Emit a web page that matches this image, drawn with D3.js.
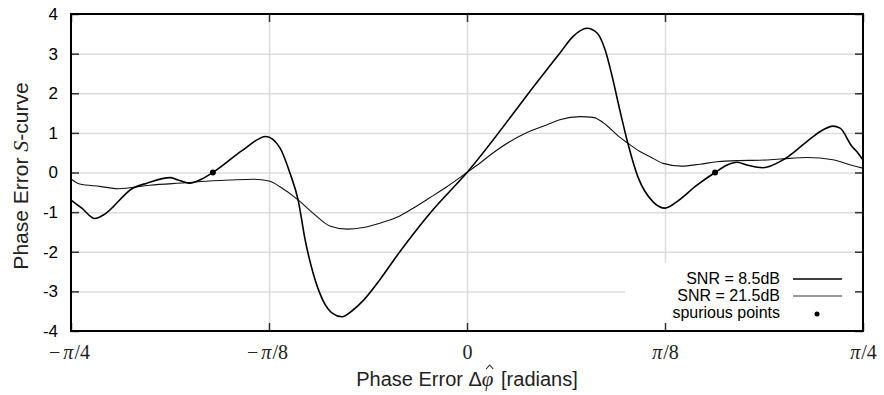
<!DOCTYPE html>
<html>
<head>
<meta charset="utf-8">
<script src="https://cdn.jsdelivr.net/npm/d3@7"></script>
<style>
  body { margin: 0; background: #fff; }
  svg { display: block; font-family: "Liberation Sans", Arial, sans-serif; }
</style>
</head>
<body>
<div id="container"></div>
<script>
/* DATA */
// phase error in radians, S-curve value
const phaseLow = [-0.785, -0.764, -0.738, -0.722, -0.662, -0.635, -0.589, -0.573, -0.549, -0.530,
  -0.504, -0.444, -0.399, -0.371, -0.351, -0.335, -0.321, -0.305, -0.286, -0.266, -0.248,
  -0.226, -0.205, -0.173, -0.139, -0.073, 0, 0.145, 0.184, 0.210, 0.238, 0.258, 0.274, 0.288, 0.303, 0.319,
  0.339, 0.369, 0.393, 0.416, 0.456, 0.492, 0.516, 0.535, 0.555, 0.587, 0.627, 0.674, 0.700, 0.726,
  0.740, 0.764, 0.773, 0.785];
const sLow = [-0.70, -0.90, -1.16, -1.08, -0.39, -0.27, -0.13, -0.19, -0.27, -0.19,
  0.00, 0.57, 0.91, 0.62, -0.02, -0.69, -1.70, -2.55, -3.22, -3.56, -3.64,
  -3.47, -3.22, -2.71, -2.10, -1.02, 0, 2.38, 3.01, 3.43, 3.64, 3.52, 3.09, 2.42, 1.58, 0.74,
  -0.11, -0.74, -0.90, -0.74, -0.32, 0.00, 0.19, 0.26, 0.19, 0.12, 0.32, 0.78, 1.03, 1.17,
  1.12, 0.65, 0.53, 0.32];

const phaseHigh = [-0.785, -0.768, -0.728, -0.692, -0.629, -0.559, -0.504, -0.470, -0.424, -0.391,
  -0.371, -0.335, -0.305, -0.272, -0.238, -0.206, -0.173, -0.139, -0.107, -0.073, -0.040, 0,
  0.026, 0.052, 0.119, 0.158, 0.184, 0.224, 0.250, 0.276, 0.299, 0.319, 0.343, 0.363, 0.389,
  0.426, 0.462, 0.496, 0.535, 0.581, 0.621, 0.674, 0.726, 0.766, 0.785];
const sHigh = [-0.17, -0.29, -0.35, -0.41, -0.32, -0.26, -0.21, -0.19, -0.17, -0.22,
  -0.36, -0.69, -1.03, -1.35, -1.43, -1.39, -1.28, -1.13, -0.90, -0.63, -0.36, 0,
  0.24, 0.50, 1.01, 1.20, 1.33, 1.41, 1.39, 1.20, 0.93, 0.74, 0.53, 0.40, 0.23,
  0.16, 0.21, 0.27, 0.30, 0.31, 0.34, 0.38, 0.32, 0.17, 0.11];

const spuriousPhase = [-0.504, 0.492];
const spuriousS = [0, 0];

const xTickValues = [-Math.PI / 4, -Math.PI / 8, 0, Math.PI / 8, Math.PI / 4];
const xTickLabels = [["−", "π", "/4"], ["−", "π", "/8"], ["", "", "0"], ["", "π", "/8"], ["", "π", "/4"]];
const yTickValues = [-4, -3, -2, -1, 0, 1, 2, 3, 4];
const legendLabels = ["SNR = 8.5dB", "SNR = 21.5dB", "spurious points"];

/* LAYOUT */
const margin = { top: 14, right: 21, bottom: 64, left: 71 };
const width = 884 - margin.left - margin.right;
const height = 395 - margin.top - margin.bottom;

const svg = d3.select('#container')
  .append('svg')
  .attr("width", 884)
  .attr("height", 395);

const chart = svg.append('g')
  .attr("transform", `translate(${margin.left}, ${margin.top})`);

const xScale = d3.scaleLinear().domain([-Math.PI / 4, Math.PI / 4]).range([0, width]);
const yScale = d3.scaleLinear().domain([-4, 4]).range([height, 0]);

// Grid
chart.append("g")
  .attr("transform", `translate(0,${height})`)
  .call(d3.axisBottom(xScale).tickValues(xTickValues.slice(1, 4)).tickSize(-height).tickFormat(""))
  .call(g => g.select(".domain").remove())
  .call(g => g.selectAll("line").attr("stroke", "#dcdcdc").attr("stroke-width", 1.5));

chart.append("g")
  .call(d3.axisLeft(yScale).tickValues(yTickValues.slice(1, 8)).tickSize(-width).tickFormat(""))
  .call(g => g.select(".domain").remove())
  .call(g => g.selectAll("line").attr("stroke", "#dcdcdc").attr("stroke-width", 1.5));

// Curves
const line = d3.line()
  .x(d => xScale(d[0]))
  .y(d => yScale(d[1]))
  .curve(d3.curveMonotoneX);

chart.append("path")
  .datum(d3.zip(phaseHigh, sHigh))
  .attr("fill", "none")
  .attr("stroke", "#111")
  .attr("stroke-width", 1.1)
  .attr("d", line);

chart.append("path")
  .datum(d3.zip(phaseLow, sLow))
  .attr("fill", "none")
  .attr("stroke", "#000")
  .attr("stroke-width", 1.6)
  .attr("d", line);

chart.selectAll(".spurious")
  .data(d3.zip(spuriousPhase, spuriousS))
  .enter()
  .append("circle")
  .attr("class", "spurious")
  .attr("cx", d => xScale(d[0]))
  .attr("cy", d => yScale(d[1]))
  .attr("r", 3)
  .attr("fill", "#000");

// Legend box (covers grid)
const legend = chart.append("g")
  .attr("transform", `translate(${width}, ${height})`);

legend.append("rect")
  .attr("x", -238)
  .attr("y", -68)
  .attr("width", 238)
  .attr("height", 68)
  .attr("fill", "#fff");

legend.selectAll("text")
  .data(legendLabels)
  .enter()
  .append("text")
  .attr("x", -83)
  .attr("y", (d, i) => -47.5 + i * 17)
  .attr("text-anchor", "end")
  .attr("font-size", 16)
  .attr("fill", "#000")
  .text(d => d);

legend.append("line")
  .attr("x1", -70).attr("x2", -21)
  .attr("y1", -52).attr("y2", -52)
  .attr("stroke", "#000").attr("stroke-width", 1.6);

legend.append("line")
  .attr("x1", -70).attr("x2", -21)
  .attr("y1", -35).attr("y2", -35)
  .attr("stroke", "#333").attr("stroke-width", 1.1);

legend.append("circle")
  .attr("cx", -46)
  .attr("cy", -17)
  .attr("r", 2.5)
  .attr("fill", "#000");

// Ticks (inward) on all four sides
const tickStyle = g => {
  g.select(".domain").remove();
  g.selectAll("line").attr("stroke", "#333").attr("stroke-width", 1.5);
};

chart.append("g")
  .call(d3.axisLeft(yScale).tickValues(yTickValues).tickSize(-8).tickFormat(d => String(d)).tickPadding(13))
  .call(tickStyle)
  .call(g => g.selectAll("text")
    .attr("font-size", 17)
    .attr("font-family", "Liberation Sans, Arial, sans-serif")
    .attr("fill", "#000"));

chart.append("g")
  .attr("transform", `translate(${width},0)`)
  .call(d3.axisRight(yScale).tickValues(yTickValues).tickSize(-8).tickFormat(""))
  .call(tickStyle);

chart.append("g")
  .call(d3.axisTop(xScale).tickValues(xTickValues).tickSize(-8).tickFormat(""))
  .call(tickStyle);

const xAxis = chart.append("g")
  .attr("transform", `translate(0,${height})`)
  .call(d3.axisBottom(xScale).tickValues(xTickValues).tickSize(-8).tickFormat(""))
  .call(tickStyle);

// x tick labels with italic pi
xAxis.selectAll(".tick")
  .append("text")
  .attr("y", 28)
  .attr("text-anchor", "middle")
  .attr("font-family", "Liberation Serif, serif")
  .attr("font-size", 20)
  .attr("fill", "#222")
  .each(function (d, i) {
    const t = d3.select(this);
    const parts = xTickLabels[i];
    if (parts[0]) t.append("tspan").attr("dx", -2).text(parts[0]);
    if (parts[1]) t.append("tspan").attr("dx", parts[0] ? 3 : 0).attr("font-style", "italic").text(parts[1]);
    t.append("tspan").attr("dx", parts[1] ? 1 : 0).text(parts[2]);
  });

// Frame
chart.append("rect")
  .attr("width", width)
  .attr("height", height)
  .attr("fill", "none")
  .attr("stroke", "#000")
  .attr("stroke-width", 2);

// X-axis label
const xLabel = svg.append("text")
  .attr("x", margin.left + width / 2)
  .attr("y", 386)
  .attr("text-anchor", "middle")
  .attr("font-size", 20)
  .attr("fill", "#222");
xLabel.append("tspan").text("Phase Error Δ");
xLabel.append("tspan")
  .attr("font-family", "Liberation Serif, serif")
  .attr("font-style", "italic")
  .attr("font-size", 21)
  .text("φ");
xLabel.append("tspan").attr("dx", 2).text(" [radians]");

// hat over phi
const phiBox = xLabel.node().getExtentOfChar(13);
const hatX = phiBox.x + phiBox.width / 2 + 2;
svg.append("path")
  .attr("d", `M${hatX - 3.5},369 L${hatX},365 L${hatX + 3.5},369`)
  .attr("fill", "none")
  .attr("stroke", "#222")
  .attr("stroke-width", 1.1);

// Y-axis label
const yLabel = svg.append("text")
  .attr("transform", "rotate(-90)")
  .attr("x", -176)
  .attr("y", 28)
  .attr("text-anchor", "middle")
  .attr("font-size", 21)
  .attr("fill", "#222");
yLabel.append("tspan").text("Phase Error ");
yLabel.append("tspan")
  .attr("font-family", "Liberation Serif, serif")
  .attr("font-style", "italic")
  .attr("font-size", 22)
  .text("S");
yLabel.append("tspan").text("-curve");
</script>
</body>
</html>
